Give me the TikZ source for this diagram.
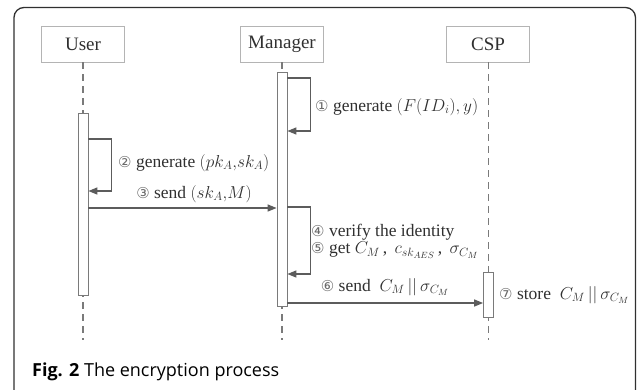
\documentclass[tikz,border=0pt]{standalone}
\usepackage{fontspec}
\setmainfont{Liberation Serif}
\setsansfont{Open Sans}
\newfontfamily\circfont{DejaVu Sans}
\usetikzlibrary{arrows.meta}

\definecolor{framecol}{HTML}{303030}
\definecolor{boxcol}{HTML}{B4B4B4}
\definecolor{linecol}{HTML}{5C5C5C}
\definecolor{lifecol}{HTML}{7A7A7A}
\definecolor{txtcol}{HTML}{303030}
\definecolor{numcol}{HTML}{6A6A6A}

\newcommand{\stepnum}[1]{{\circfont\fontsize{15}{17}\selectfont\color{numcol}#1}}

\tikzset{
  actor/.style={draw=boxcol, line width=0.9pt, minimum width=83pt, minimum height=36pt,
    inner sep=0pt, text=txtcol, font=\fontsize{19}{22}\selectfont},
  actbar/.style={draw=lifecol, line width=0.8pt, fill=white, minimum width=10pt, inner sep=0pt},
  life/.style={draw=lifecol, line width=1.1pt, dash pattern=on 7pt off 5pt},
  msg/.style={draw=linecol, line width=1.4pt, -{Triangle[length=9pt,width=7pt]}},
  lbl/.style={text=txtcol, inner sep=0pt, font=\fontsize{17.5}{20}\selectfont},
}

\begin{document}
\begin{tikzpicture}[x=1pt,y=-1pt]
\useasboundingbox (0,0) rectangle (637,389);

% outer frame
\draw[framecol, line width=1.3pt, rounded corners=10pt] (14,7.5) rectangle (635.5,430);

% participants
\node[actor] (user) at (83,44) {User};
\node[actor] (mgr)  at (282,44) {Manager};
\node[actor] (csp)  at (488,44) {CSP};

% lifelines
\coordinate (uend) at (83,340);
\coordinate (mend) at (282,340);
\coordinate (cend) at (488.5,340);
\draw[life] (user.south) -- (uend);
\draw[life] (mgr.south) -- (mend);
\draw[life] ([xshift=0.5pt]csp.south) -- (cend);

% activation bars
\node[actbar, minimum height=182pt] (ubar) at (83,204) {};
\node[actbar, minimum height=234pt] (mbar) at (282,189) {};
\node[actbar, minimum height=45pt]  (cbar) at (488.5,294.5) {};

% step 1: manager generates parameters
\draw[msg] (mbar.east |- 0,78) -- ++(23,0) -- ++(0,53) -- (mbar.east |- 0,131);
\node[lbl, anchor=west] (l1) at (315,107) {\stepnum{①} generate $(F(ID_i),y)$};

% step 2: user generates key pair
\draw[msg] (ubar.east |- 0,139) -- ++(23,0) -- ++(0,52) -- (ubar.east |- 0,191);
\node[lbl, anchor=west] (l2) at (118,163) {\stepnum{②} generate $(pk_A{,}sk_A)$};

% step 3: user sends to manager
\draw[msg] (ubar.east |- 0,208) -- (mbar.west |- 0,208);
\node[lbl] (l3) at (194,194) {\stepnum{③} send $(sk_A{,}M)$};

% steps 4 and 5: manager verifies and computes
\draw[msg] (mbar.east |- 0,207) -- ++(23,0) -- ++(0,67) -- (mbar.east |- 0,274);
\node[lbl, anchor=west] (l4) at (311,232) {\stepnum{④} verify the identity};
\node[lbl, anchor=west] (l5) at (311,250) {\stepnum{⑤} get $C_M$\,,\, $c_{sk_{AES}}$\,,\, $\sigma_{C_M}$};

% step 6: manager sends to CSP
\draw[msg] (mbar.east |- 0,303) -- (cbar.west |- 0,303);
\node[lbl] (l6) at (385,287) {\stepnum{⑥} send\ \ $C_M\,||\,\sigma_{C_M}$};

% step 7: CSP stores
\node[lbl, anchor=west] (l7) at (499,295) {\stepnum{⑦} store\ \ $C_M\,||\,\sigma_{C_M}$};

% caption
\node[anchor=base west, inner sep=0pt, font=\sffamily\fontsize{18}{21}\selectfont, text=black] (cap) at (32,376)
  {\textbf{Fig. 2} The encryption process};
\end{tikzpicture}
\end{document}
